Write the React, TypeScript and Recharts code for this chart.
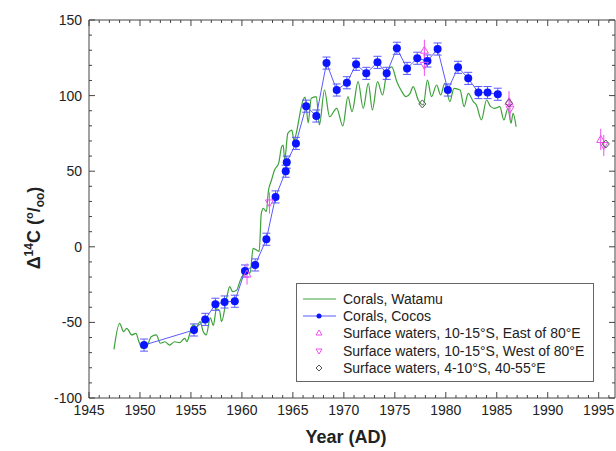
import React from "react"
import { ComposedChart, Line, Scatter, XAxis, YAxis, ErrorBar, Legend, Label } from "recharts"

// Corals, Watamu (green trace)
const watamuYears = [
    1947.45, 1948.0, 1948.4, 1948.7, 1949.2, 1949.6, 1949.9, 1950.2, 1950.65, 1951.1,
    1951.6, 1952.0, 1952.45, 1952.9, 1953.4, 1953.9, 1954.4, 1954.6, 1954.9, 1955.2,
    1955.55, 1955.9, 1956.2, 1956.5, 1956.9, 1957.2, 1957.5, 1957.8, 1958.0, 1958.5,
    1958.8, 1959.1, 1959.5, 1959.8, 1960.1, 1960.5, 1960.8, 1961.1, 1961.4, 1961.7,
    1961.9, 1962.1, 1962.4, 1962.6, 1962.9, 1963.2, 1963.6, 1963.9, 1964.05, 1964.2,
    1964.5, 1964.9, 1965.1, 1965.4, 1965.7, 1966.0, 1966.2, 1966.5, 1966.8, 1967.3,
    1967.6, 1968.1, 1968.6, 1969.3, 1969.9, 1970.4, 1970.8, 1971.4, 1971.9, 1972.4,
    1972.8, 1973.3, 1973.8, 1974.2, 1974.7, 1975.2, 1975.6, 1976.1, 1976.5, 1976.8,
    1977.3, 1977.8, 1978.2, 1978.6, 1979.1, 1979.5, 1979.9, 1980.4, 1980.8, 1981.4,
    1981.8, 1982.2, 1982.7, 1983.0, 1983.5, 1984.0, 1984.4, 1984.8, 1985.3, 1985.7,
    1986.1, 1986.4, 1986.6, 1986.9,
]
const watamuValues = [
    -67.8, -50.6, -56.1, -53.9, -58.3, -57.2, -62.8, -67.1, -66, -59.5,
    -58.3, -63.8, -62.8, -65, -62.8, -63.4, -60.5, -62.8, -57.2, -51.7,
    -52.8, -49.5, -56.1, -58.3, -47, -52, -41, -42, -49.5, -34,
    -26.4, -29.7, -28.6, -23, -18.6, -15.3, -17.5, -1, -2, -3,
    22, 25.4, 23.3, 37, 44, 50.8, 55.2, 66.2, 67.3, 57.4,
    75, 77.2, 70.6, 77.2, 88.3, 97, 99, 82, 98.2, 99.3,
    80.6, 103.7, 86, 91.6, 79.9, 99.3, 89.4, 109.2, 91.6, 108.1,
    90.5, 109.2, 100.4, 114.7, 119, 109.2, 103.7, 99.3, 101.5, 105.9,
    97.1, 93.8, 110.3, 99.3, 107, 100.4, 108.1, 96, 104.8, 103.7,
    92.7, 101.5, 96, 93.8, 83.9, 97.1, 92.7, 91.6, 92.7, 83.9,
    91.6, 81.7, 88.3, 79.4,
]

// Corals, Cocos (blue, with error bars)
const cocosYears = [
    1950.4, 1955.3, 1956.4, 1957.4, 1958.3, 1959.3, 1960.3, 1961.3, 1962.4, 1963.3,
    1964.3, 1964.4, 1965.3, 1966.3, 1967.3, 1968.3, 1969.3, 1970.3, 1971.2, 1972.2,
    1973.3, 1974.2, 1975.2, 1976.2, 1977.2, 1978.2, 1979.2, 1980.2, 1981.2, 1982.2,
    1983.2, 1984.1, 1985.1,
]
const cocosValues = [
    -65, -55, -48, -38, -36.5, -36, -16, -12, 5, 33,
    50, 56, 68.4, 93, 86.5, 121.5, 103.7, 108.5, 120.7, 114.7,
    122, 114.7, 131.3, 118, 124.7, 122.9, 130.8, 103.7, 118.7, 111.4,
    102, 102, 100.9,
]
const cocosError = 4

// Surface waters, 10-15°S, East of 80°E
const eastYears = [1960.5, 1977.9, 1986.2, 1995.2]
const eastValues = [-18, 130, 96, 71]
// Surface waters, 10-15°S, West of 80°E
const westYears = [1962.7, 1977.9, 1986.3, 1995.5]
const westValues = [29, 120, 91, 67]
const surfaceError = 7
// Surface waters, 4-10°S, 40-55°E
const diamondYears = [1977.7, 1986.2, 1995.7]
const diamondValues = [94.5, 95, 68]

// every year gets a tick, every 5th a long one with a label
const xTicks = Array.from({ length: 52 }, (_, i) => 1945 + i)
// every 10 gets a tick, every 50 a long one with a label
const yTicks = Array.from({ length: 26 }, (_, i) => -100 + i * 10)

const legendLabels = [
    "Corals, Watamu",
    "Corals, Cocos",
    "Surface waters, 10-15°S, East of 80°E",
    "Surface waters, 10-15°S, West of 80°E",
    "Surface waters, 4-10°S, 40-55°E",
]

const watamu = watamuYears.map((x, i) => ({ x, y: watamuValues[i] }))
const cocos = cocosYears.map((x, i) => ({ x, y: cocosValues[i], err: cocosError }))
const east = eastYears.map((x, i) => ({ x, y: eastValues[i], err: surfaceError }))
const west = westYears.map((x, i) => ({ x, y: westValues[i], err: surfaceError }))
const diamonds = diamondYears.map((x, i) => ({ x, y: diamondValues[i] }))

const GREEN = "#3ca23a"
const BLUE = "#0a14ff"
const BLUE_LINE = "#5a5aff"
const PINK = "#f050f0"
const GRAY = "#555"
const AXIS = "#444"
const FONT = "Arial, 'Liberation Sans', sans-serif"
const X_DOMAIN: [number, number] = [1945, 1996.6]
const Y_DOMAIN: [number, number] = [-100, 150]

const TriUp = ({ cx, cy }: any) => (
    <polygon points={`${cx},${cy - 4} ${cx - 4},${cy + 3} ${cx + 4},${cy + 3}`} fill="none" stroke={PINK} strokeWidth={1} />
)
const TriDown = ({ cx, cy }: any) => (
    <polygon points={`${cx},${cy + 4} ${cx - 4},${cy - 3} ${cx + 4},${cy - 3}`} fill="none" stroke={PINK} strokeWidth={1} />
)
const Diamond = ({ cx, cy }: any) => (
    <polygon points={`${cx},${cy - 4} ${cx + 3.5},${cy} ${cx},${cy + 4} ${cx - 3.5},${cy}`} fill="none" stroke={GRAY} strokeWidth={1} />
)
const Dot = ({ cx, cy }: any) => <circle cx={cx} cy={cy} r={4} fill={BLUE} />

// tick marks point into the plot; only bottom and left carry labels
const XTick = ({ x, y, payload, side }: any) => {
    const major = payload.value % 5 === 0
    const len = major ? 6 : 3
    const dir = side === "bottom" ? -1 : 1
    return (
        <g>
            <line x1={x} y1={y} x2={x} y2={y + dir * len} stroke={AXIS} strokeWidth={1} />
            {side === "bottom" && major && (
                <text x={x} y={y + 17} textAnchor="middle" fontSize={14} fill="#222" fontFamily={FONT}>
                    {payload.value}
                </text>
            )}
        </g>
    )
}
const YTick = ({ x, y, payload, side }: any) => {
    const major = payload.value % 50 === 0
    const len = major ? 6 : 3
    const dir = side === "left" ? 1 : -1
    return (
        <g>
            <line x1={x} y1={y} x2={x + dir * len} y2={y} stroke={AXIS} strokeWidth={1} />
            {side === "left" && major && (
                <text x={x - 7} y={y} dy="0.36em" textAnchor="end" fontSize={14} fill="#222" fontFamily={FONT}>
                    {payload.value}
                </text>
            )}
        </g>
    )
}

const LegendBox = () => (
    <div
        style={{
            border: "1px solid #666",
            background: "#fff",
            padding: "6px 0 6px 6px",
            fontFamily: FONT,
            fontSize: 14,
            color: "#222",
            boxSizing: "border-box",
            width: 298,
            height: 99,
            whiteSpace: "nowrap",
        }}
    >
        {legendLabels.map((label, i) => (
            <div key={label} style={{ display: "flex", alignItems: "center", height: 17.3 }}>
                <svg width={35} height={12} style={{ marginRight: 5, flex: "none" }}>
                    {i === 0 && <line x1={0} y1={6} x2={33} y2={6} stroke={GREEN} strokeWidth={1} />}
                    {i === 1 && (
                        <>
                            <line x1={0} y1={6} x2={33} y2={6} stroke={BLUE_LINE} strokeWidth={1} />
                            <circle cx={16} cy={6} r={2.5} fill={BLUE} />
                        </>
                    )}
                    {i === 2 && <polygon points="16,3 13,8 19,8" fill="none" stroke={PINK} />}
                    {i === 3 && <polygon points="16,9 13,4 19,4" fill="none" stroke={PINK} />}
                    {i === 4 && <polygon points="16,3 19,6 16,9 13,6" fill="none" stroke={GRAY} />}
                </svg>
                <span>{label}</span>
            </div>
        ))}
    </div>
)

export default function App() {
    return (
        <div style={{ position: "absolute", left: 0, top: 0, background: "#fff" }}>
            <ComposedChart width={616} height={451} margin={{ top: 19, right: 0, bottom: 0, left: 0 }}>
                <XAxis type="number" dataKey="x" domain={X_DOMAIN} ticks={xTicks} interval={0} height={53}
                    tickSize={0} tickMargin={0} tickLine={false} stroke={AXIS}
                    tick={(p: any) => <XTick {...p} side="bottom" />} allowDataOverflow>
                    <Label
                        content={() => (
                            <text x={346} y={443} textAnchor="middle" fontWeight="bold" fontSize={18} fill="#222" fontFamily={FONT}>
                                Year (AD)
                            </text>
                        )}
                    />
                </XAxis>
                <XAxis xAxisId="top" orientation="top" type="number" dataKey="x" domain={X_DOMAIN} ticks={xTicks} interval={0} height={1}
                    tickSize={0} tickMargin={0} tickLine={false} stroke={AXIS}
                    tick={(p: any) => <XTick {...p} side="top" />} allowDataOverflow />

                <YAxis type="number" domain={Y_DOMAIN} ticks={yTicks} interval={0} width={89}
                    tickSize={0} tickMargin={0} tickLine={false} stroke={AXIS}
                    tick={(p: any) => <YTick {...p} side="left" />} allowDataOverflow>
                    <Label
                        content={() => (
                            <text transform="translate(40,228) rotate(-90)" x={0} y={0} textAnchor="middle"
                                fontWeight="bold" fontSize={18} fill="#222" fontFamily={FONT}>
                                Δ<tspan dy={-7} fontSize={12}>14</tspan>
                                <tspan dy={7}>C (</tspan>
                                <tspan dy={-7} fontSize={11}>o</tspan>
                                <tspan dy={7}>/</tspan>
                                <tspan dy={4} fontSize={12}>oo</tspan>
                                <tspan dy={-4}>)</tspan>
                            </text>
                        )}
                    />
                </YAxis>
                <YAxis yAxisId="right" orientation="right" type="number" domain={Y_DOMAIN} ticks={yTicks} interval={0} width={1}
                    tickSize={0} tickMargin={0} tickLine={false} stroke={AXIS}
                    tick={(p: any) => <YTick {...p} side="right" />} allowDataOverflow />

                <Line data={watamu} dataKey="y" type="monotone" stroke={GREEN} strokeWidth={1.2}
                    dot={false} activeDot={false} isAnimationActive={false} />
                <Scatter data={cocos} dataKey="y" fill={BLUE} shape={Dot}
                    line={{ stroke: BLUE_LINE, strokeWidth: 1 }} isAnimationActive={false}>
                    <ErrorBar dataKey="err" direction="y" width={4} stroke={BLUE_LINE} strokeWidth={1} />
                </Scatter>
                <Scatter data={east} dataKey="y" fill={PINK} shape={TriUp} isAnimationActive={false}>
                    <ErrorBar dataKey="err" direction="y" width={0} stroke={PINK} strokeWidth={1} />
                </Scatter>
                <Scatter data={west} dataKey="y" fill={PINK} shape={TriDown} isAnimationActive={false}>
                    <ErrorBar dataKey="err" direction="y" width={0} stroke={PINK} strokeWidth={1} />
                </Scatter>
                <Scatter data={diamonds} dataKey="y" fill={GRAY} shape={Diamond} isAnimationActive={false} />

                <Legend
                    layout="vertical"
                    align="center"
                    verticalAlign="middle"
                    content={() => <LegendBox />}
                    wrapperStyle={{ left: 296, top: 283, width: 298, height: 99 }}
                />
            </ComposedChart>
        </div>
    )
}
